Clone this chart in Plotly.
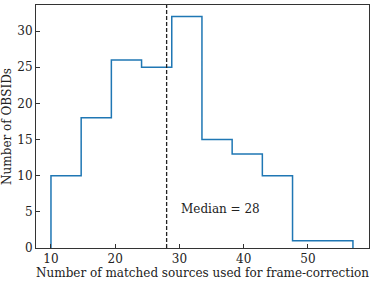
import plotly.graph_objects as go

bin_edges = [10.0, 14.7, 19.4, 24.1, 28.8, 33.5, 38.2, 42.9, 47.6, 52.3, 57.0]
counts = [10, 18, 26, 25, 32, 15, 13, 10, 1, 1]
median_value = 28
x_ticks = [10, 20, 30, 40, 50]
y_ticks = [0, 5, 10, 15, 20, 25, 30]

step_x = [bin_edges[0], bin_edges[0]] + bin_edges[1:-1] + [bin_edges[-1]]
step_y = [0] + counts + [0]

font = "DejaVu Serif"
fs = 12
fig = go.Figure()
fig.add_trace(go.Scatter(x=step_x, y=step_y, mode="lines", line_shape="hv",
                         line=dict(color="#1f77b4", width=1.5), showlegend=False))
fig.add_shape(type="line", x0=median_value, x1=median_value, y0=0, y1=1,
              xref="x", yref="paper", line=dict(color="#222", width=1.3, dash="4px,2px"))
fig.add_annotation(x=30, y=5.4, text=f"Median = {median_value}", showarrow=False,
                   xanchor="left", yanchor="middle", font=dict(family=font, size=fs, color="#222"))

axis_common = dict(showline=True, mirror=True, linecolor="#333", linewidth=1,
                   ticks="inside", ticklen=4, tickcolor="#333", showgrid=False, zeroline=False,
                   automargin=False,
                   tickfont=dict(family=font, size=fs, color="#222"))
fig.update_xaxes(range=[7.67, 59.5], tickvals=x_ticks,
                 title=dict(text="Number of matched sources used for frame-correction",
                            font=dict(family=font, size=fs, color="#222"), standoff=0),
                 **axis_common)
fig.update_yaxes(range=[0, 33.6], tickvals=y_ticks,
                 title=dict(text="Number of OBSIDs", font=dict(family=font, size=fs, color="#222"), standoff=4),
                 **axis_common)
fig.update_layout(width=374, height=281, margin=dict(l=36, r=5, t=5, b=33),
                  plot_bgcolor="white", paper_bgcolor="white")
fig.write_html("out.html", config={"displayModeBar": False},
               post_script="document.body.style.margin='0';document.body.style.overflow='hidden';")
